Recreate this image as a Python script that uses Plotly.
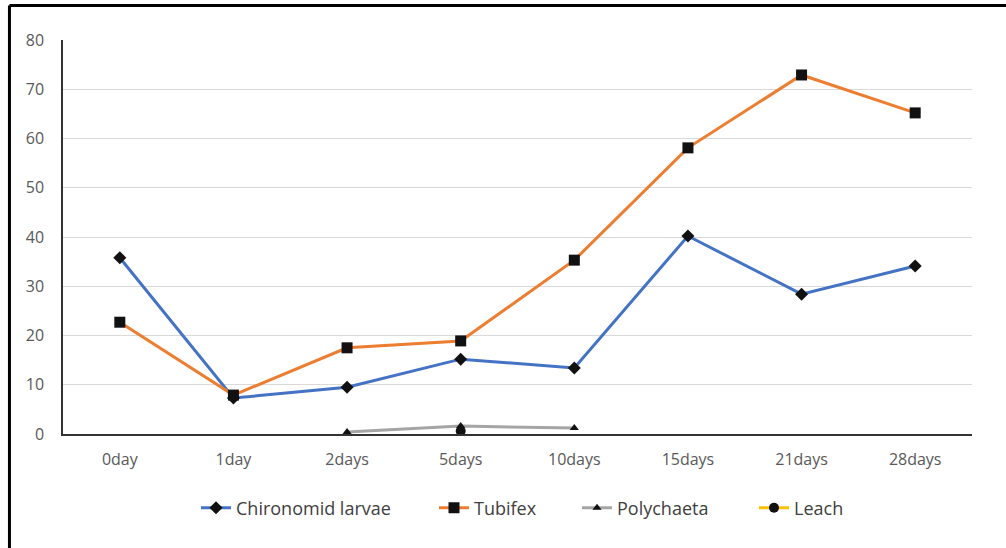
import plotly.graph_objects as go

categories = ["0day", "1day", "2days", "5days", "10days", "15days", "21days", "28days"]
chironomid = [35.8, 7.3, 9.5, 15.2, 13.4, 40.2, 28.4, 34.1]
tubifex = [22.7, 7.9, 17.5, 18.9, 35.3, 58.1, 72.9, 65.2]
polychaeta = [None, None, 0.4, 1.6, 1.2, None, None, None]
leach = [None, None, None, 0.6, None, None, None, None]
y_ticks = [0, 10, 20, 30, 40, 50, 60, 70, 80]

series = [
    ("Chironomid larvae", chironomid, "#4472C4", "diamond", 10, "legend"),
    ("Tubifex", tubifex, "#ED7D31", "square", 11, "legend2"),
    ("Polychaeta", polychaeta, "#A5A5A5", "triangle-up", 8, "legend3"),
    ("Leach", leach, "#FFC000", "circle", 10, "legend4"),
]

fig = go.Figure()
for name, vals, color, sym, size, lg in series:
    fig.add_trace(go.Scatter(x=categories, y=vals, name=name, mode="lines+markers",
                             line=dict(color=color, width=3),
                             marker=dict(symbol=sym, size=size, color="#111111"),
                             legend=lg))

font = dict(family="Open Sans, Liberation Sans, sans-serif", size=16, color="#595959")
lfont = dict(family="Open Sans, Liberation Sans, sans-serif", size=18, color="#404040")

L, R, T, B = 63, 34, 40, 114
pw = 1006 - L - R


def leg(px):
    return dict(orientation="h", x=(px - L) / pw, xanchor="left", y=-0.188, yanchor="middle",
                font=lfont, bgcolor="rgba(0,0,0,0)")


fig.update_layout(
    width=1006, height=548,
    margin=dict(l=L, r=R, t=T, b=B, autoexpand=False),
    paper_bgcolor="white", plot_bgcolor="white",
    font=font,
    showlegend=True,
    legend=leg(196),
    legend2=leg(434),
    legend3=leg(577),
    legend4=leg(754),
    xaxis=dict(type="category", categoryorder="array", categoryarray=categories,
               showline=True, linecolor="#333333", linewidth=1.5, showgrid=False,
               ticks="", tickfont=font, range=[-0.5, 7.5], automargin=False,
               ticklabelstandoff=10),
    yaxis=dict(range=[0, 80], tickvals=y_ticks, showline=True, linecolor="#333333", linewidth=1.5,
               showgrid=True, gridcolor="#D9D9D9", gridwidth=1.2, zeroline=False,
               ticks="", tickfont=font, ticklabelstandoff=14, automargin=False),
    shapes=[
        dict(type="line", xref="paper", yref="paper", x0=-0.0589, x1=-0.0589, y0=-0.30, y1=1.0876,
             line=dict(color="black", width=3)),
        dict(type="line", xref="paper", yref="paper", x0=-0.0589, x1=1.04, y0=1.0876, y1=1.0876,
             line=dict(color="black", width=3)),
    ],
)

fig.write_html("out.html", config={"displayModeBar": False},
               post_script="document.body.style.margin='0';document.body.style.overflow='hidden';")
